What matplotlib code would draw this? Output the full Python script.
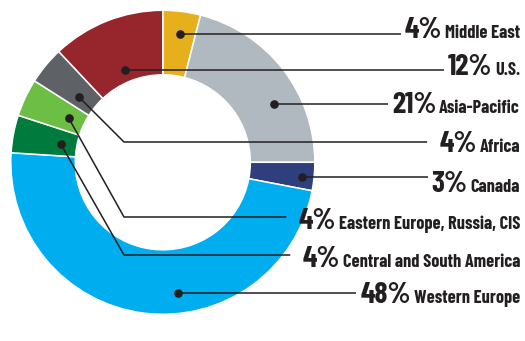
import matplotlib
matplotlib.use("Agg")
import numpy as np
import matplotlib.pyplot as plt
from matplotlib.patches import Wedge

# Revenue share by region, clockwise from 12 o'clock
regions = ["Middle East", "Asia-Pacific", "Canada", "Western Europe",
           "Central and South America", "Eastern Europe, Russia, CIS",
           "Africa", "U.S."]
shares = [4, 21, 3, 48, 4, 4, 4, 12]
colors = ["#E6AF1C", "#B0B9C0", "#2F3F7E", "#00AEEF",
          "#007B3E", "#6DBE45", "#5E6266", "#97262C"]

# Order of the labels down the right-hand side
label_order = ["Middle East", "U.S.", "Asia-Pacific", "Africa", "Canada",
               "Eastern Europe, Russia, CIS", "Central and South America",
               "Western Europe"]

W, H = 525, 341
fig = plt.figure(figsize=(W / 100, H / 100), dpi=100)
ax = fig.add_axes([0, 0, 1, 1])
ax.set_xlim(0, W)
ax.set_ylim(H, 0)
ax.set_aspect("equal")
ax.axis("off")

cx, cy = 162.8, 162.3
r_out, r_in = 152.0, 87.5

# Donut drawn in a y-down pixel frame: clockwise from the top
angles = np.concatenate([[0], np.cumsum(shares)]) / 100 * 360
for a0, a1, c in zip(angles[:-1], angles[1:], colors):
    # "degrees clockwise from top" -> wedge angles in the inverted-y frame
    t0, t1 = a0 - 90, a1 - 90
    ax.add_patch(Wedge((cx, cy), r_out, t0, t1, width=r_out - r_in,
                       facecolor=c, edgecolor="white", linewidth=1.1))

# Leader layout: dot position inside each slice (fraction of the slice span,
# distance from centre), optional elbow x, line height and text baseline
anchor = {
    "Middle East": (0.53, 129, None, 34, 38.5),
    "U.S.": (0.49, 100, None, 70, 75.0),
    "Asia-Pacific": (0.64, 125.5, None, 104, 113.3),
    "Africa": (0.38, 106, 124, 142, 151.7),
    "Canada": (0.48, 140, None, 177, 191.7),
    "Eastern Europe, Russia, CIS": (0.50, 104, 124, 217, 229.3),
    "Central and South America": (0.45, 103.5, 124, 255, 266.7),
    "Western Europe": (0.42, 132, None, 293, 303.3),
}

text_right = 520
ink = "#231F20"
fig.canvas.draw()
renderer = fig.canvas.get_renderer()
inv = ax.transData.inverted()

for name in label_order:
    i = regions.index(name)
    frac, rad, elbow_x, line_y, base_y = anchor[name]
    a = angles[i] + frac * (angles[i + 1] - angles[i])
    th = np.deg2rad(a)
    dx, dy = cx + rad * np.sin(th), cy - rad * np.cos(th)

    t_name = ax.text(text_right, base_y, name, ha="right", va="baseline",
                     fontsize=13.2, family="Barlow Condensed", weight=700,
                     color=ink)
    bb = t_name.get_window_extent(renderer)
    x_name_left = inv.transform((bb.x0, 0))[0]
    t_pct = ax.text(x_name_left - 3, base_y, f"{shares[i]}%", ha="right",
                    va="baseline", fontsize=21.5, family="Barlow Condensed",
                    weight=700, color=ink)
    bb2 = t_pct.get_window_extent(renderer)
    x_pct_left = inv.transform((bb2.x0, 0))[0]

    if elbow_x is None:
        xs, ys = [dx, x_pct_left - 4], [line_y, line_y]
        dot_y = line_y
    else:
        xs, ys = [dx, elbow_x, x_pct_left - 12], [dy, line_y, line_y]
        dot_y = dy
    ax.plot(xs, ys, color=ink, lw=1.1, solid_capstyle="butt", zorder=3)
    ax.plot([dx], [dot_y], "o", color=ink, markersize=5.2, zorder=4)

fig.savefig("out.png", dpi=100)
